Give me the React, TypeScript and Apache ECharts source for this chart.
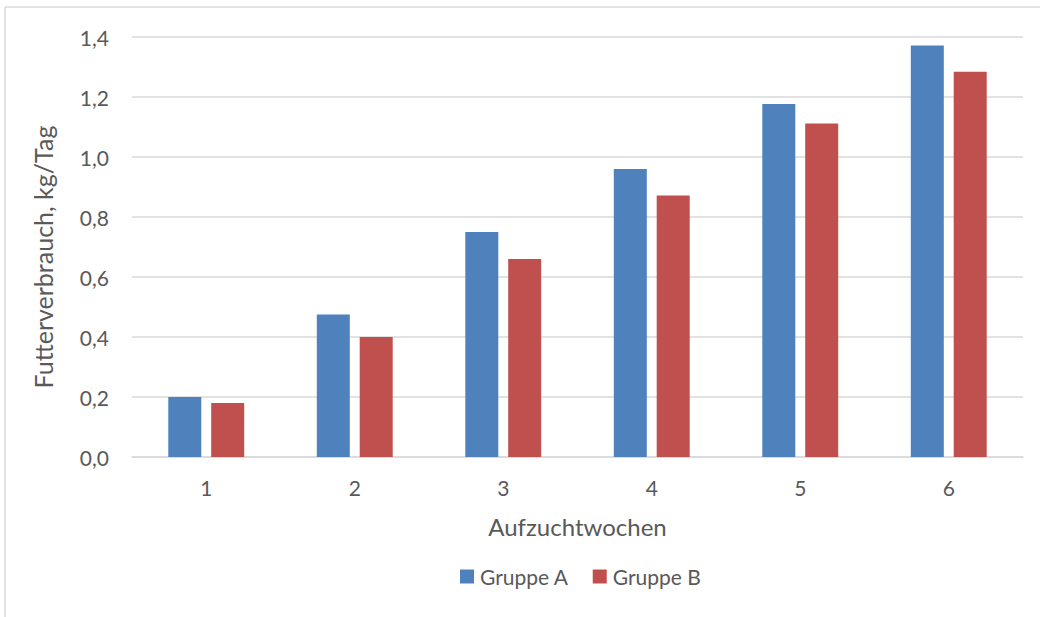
import React, { useEffect, useRef } from "react";
import * as echarts from "echarts";

const weeks = ["1", "2", "3", "4", "5", "6"];
const gruppeA = [0.2, 0.475, 0.75, 0.96, 1.177, 1.372];
const gruppeB = [0.18, 0.4, 0.66, 0.872, 1.112, 1.284];
const yTicks = { min: 0, max: 1.4, interval: 0.2 };

const FONT = "Lato, 'Open Sans', sans-serif";
const TEXT = "#595959";
const GRID = "#D9D9D9";

export default function App() {
  const ref = useRef<HTMLDivElement>(null);

  useEffect(() => {
    document.body.style.margin = "0";
    const chart = echarts.init(ref.current!, null, { renderer: "svg" });
    chart.setOption({
      animation: false,
      backgroundColor: "#ffffff",
      textStyle: { fontFamily: FONT, color: TEXT },
      graphic: [
        { type: "line", shape: { x1: 5, y1: 7, x2: 1040, y2: 7 }, style: { stroke: GRID, lineWidth: 1.5 } },
        { type: "line", shape: { x1: 5, y1: 7, x2: 5, y2: 617 }, style: { stroke: GRID, lineWidth: 1.5 } },
      ],
      grid: { left: 132, right: 17, top: 37, bottom: 160 },
      legend: {
        bottom: 25,
        left: 455,
        icon: "rect",
        itemWidth: 14,
        itemHeight: 14,
        itemGap: 24,
        textStyle: { fontFamily: FONT, fontSize: 21, color: TEXT, padding: [0, 0, 0, 1] },
        data: ["Gruppe A", "Gruppe B"],
      },
      xAxis: {
        type: "category",
        data: weeks,
        name: "Aufzuchtwochen",
        nameLocation: "middle",
        nameGap: 57,
        nameTextStyle: { fontFamily: FONT, fontSize: 24, color: TEXT },
        axisLine: { lineStyle: { color: GRID, width: 1.5 } },
        axisTick: { show: false },
        axisLabel: { margin: 20, fontFamily: FONT, fontSize: 21, color: TEXT },
      },
      yAxis: {
        type: "value",
        min: yTicks.min,
        max: yTicks.max,
        interval: yTicks.interval,
        name: "Futterverbrauch, kg/Tag",
        nameLocation: "middle",
        nameGap: 77,
        nameTextStyle: { fontFamily: FONT, fontSize: 25, color: TEXT, padding: [0, 20, 0, 0] },
        axisLine: { show: false },
        axisTick: { show: false },
        splitLine: { lineStyle: { color: GRID, width: 1.5 } },
        axisLabel: {
          margin: 23,
          fontFamily: FONT,
          fontSize: 21,
          color: TEXT,
          formatter: (v: number) => v.toFixed(1).replace(".", ","),
        },
      },
      series: [
        {
          name: "Gruppe A",
          type: "bar",
          data: gruppeA,
          barWidth: 33,
          barGap: "30%",
          itemStyle: { color: "#4F81BD" },
        },
        {
          name: "Gruppe B",
          type: "bar",
          data: gruppeB,
          barWidth: 33,
          barGap: "30%",
          itemStyle: { color: "#C0504D" },
        },
      ],
    });
    return () => chart.dispose();
  }, []);

  return (
    <div
      ref={ref}
      style={{ position: "absolute", left: 0, top: 0, width: 1040, height: 617 }}
    />
  );
}
